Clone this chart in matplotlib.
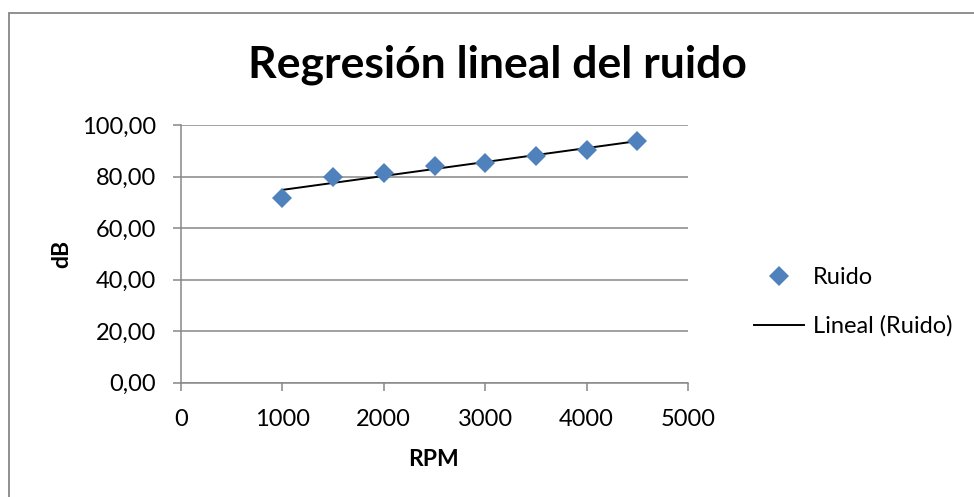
import numpy as np
import matplotlib.pyplot as plt
from matplotlib.patches import Rectangle

# RPM vs measured noise level
rpm = [1000, 1500, 2000, 2500, 3000, 3500, 4000, 4500]
ruido_db = [71.6, 79.9, 81.5, 84.2, 85.1, 88.0, 90.3, 93.7]

x_ticks = [0, 1000, 2000, 3000, 4000, 5000]
y_ticks = [0, 20, 40, 60, 80, 100]
y_tick_labels = ['0,00', '20,00', '40,00', '60,00', '80,00', '100,00']

blue = '#4F81BD'
grey = '#878787'

plt.rcParams['font.family'] = ['Lato', 'DejaVu Sans']

W, H = 974, 497
fig = plt.figure(figsize=(W / 100, H / 100), dpi=100)

# chart area border (top and left edges visible)
fig.patches.append(Rectangle((8.5 / W, -0.1), 1.2, 0.1 + (H - 12.5) / H,
                             transform=fig.transFigure, fill=False,
                             edgecolor=grey, linewidth=1.3))

ax = fig.add_axes([181 / W, 1 - 382.7 / H, 507 / W, 257.7 / H])

# linear trendline fitted on the data
slope, intercept = np.polyfit(rpm, ruido_db, 1)
xfit = np.array([rpm[0], rpm[-1]])
ax.plot(xfit, slope * xfit + intercept, color='black', lw=1.4,
        label='Lineal (Ruido)', zorder=3)
ax.plot(rpm, ruido_db, linestyle='none', marker='D', ms=10.5, color=blue,
        markeredgewidth=0, label='Ruido', zorder=4)

ax.set_xlim(0, 5000)
ax.set_ylim(0, 100)
ax.set_xticks(x_ticks)
ax.set_xticklabels([str(v) for v in x_ticks])
ax.set_yticks(y_ticks)
ax.set_yticklabels(y_tick_labels)
ax.yaxis.grid(True, color=grey, lw=1.1)
ax.set_axisbelow(True)

for side in ['top', 'right']:
    ax.spines[side].set_visible(False)
for side in ['left', 'bottom']:
    ax.spines[side].set_color(grey)
    ax.spines[side].set_linewidth(1.1)

ax.tick_params(axis='both', direction='out', length=6, width=1.1,
               color=grey, labelsize=17, labelcolor='black')
ax.tick_params(axis='y', pad=12)
ax.tick_params(axis='x', pad=13)

fig.text(497 / W, 1 - 65 / H, 'Regresión lineal del ruido', ha='center',
         va='center', fontsize=32, fontweight='bold')
fig.text(62 / W, 1 - 254 / H, 'dB', ha='center', va='center', rotation=90,
         fontsize=16.5, fontweight='bold')
fig.text(434 / W, 1 - 460 / H, 'RPM', ha='center', va='center',
         fontsize=16.5, fontweight='bold')

handles, labels = ax.get_legend_handles_labels()
fig.legend(handles[::-1], labels[::-1], loc='center left',
           bbox_to_anchor=(754 / W, 1 - 302 / H), frameon=False,
           fontsize=17, handlelength=2.1, handletextpad=0.4,
           labelspacing=1.15, borderpad=0, borderaxespad=0)

fig.savefig('out.png', dpi=100)
